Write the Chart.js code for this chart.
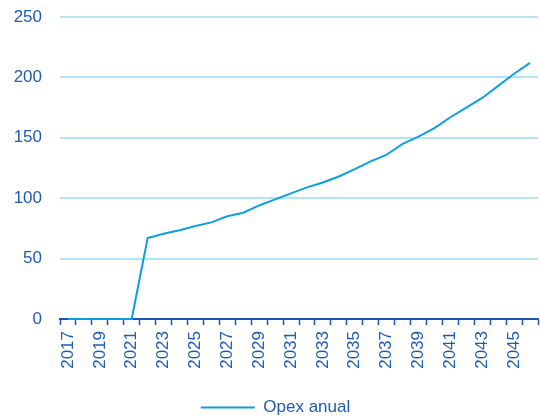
<!DOCTYPE html>
<html>
<head>
<meta charset="utf-8">
<script src="https://cdn.jsdelivr.net/npm/chart.js@4/dist/chart.umd.min.js"></script>
<style>
  html, body { margin: 0; padding: 0; background: #ffffff; }
  #wrap { width: 540px; height: 418px; position: relative; }
</style>
</head>
<body>
<div id="wrap"><canvas id="chart"></canvas></div>
<script>
// Years on the horizontal axis
const years = [2017, 2018, 2019, 2020, 2021, 2022, 2023, 2024, 2025, 2026,
               2027, 2028, 2029, 2030, 2031, 2032, 2033, 2034, 2035, 2036,
               2037, 2038, 2039, 2040, 2041, 2042, 2043, 2044, 2045, 2046];

// Annual operating expenditure
const opexAnual = [0, 0, 0, 0, 0, 67, 70.5, 73.5, 77, 80,
                   85, 88, 94, 99, 104, 109, 113, 118, 124, 130.5,
                   136, 145, 151, 158, 167, 175, 183, 193, 203, 212];

const seriesName = 'Opex anual';
const yTicks = { min: 0, max: 250, step: 50 };

const textColor = '#1f5bb5';
const lineColor = '#0c9fe2';
const gridColor = '#b6e4f7';
const axisColor = '#1f55b0';
const fontFamily = '"Liberation Sans", Arial, sans-serif';

new Chart(document.getElementById('chart'), {
  type: 'line',
  data: {
    labels: years.map(String),
    datasets: [{
      label: seriesName,
      data: opexAnual,
      borderColor: lineColor,
      backgroundColor: lineColor,
      borderWidth: 2,
      pointRadius: 0,
      tension: 0,
      clip: false
    }]
  },
  options: {
    responsive: true,
    maintainAspectRatio: false,
    animation: false,
    devicePixelRatio: 1,
    layout: {
      autoPadding: false,
      padding: { left: 13, right: 2, top: 17, bottom: -8 }
    },
    plugins: {
      tooltip: { enabled: false },
      legend: {
        position: 'bottom',
        labels: {
          color: textColor,
          font: { family: fontFamily, size: 17 },
          boxWidth: 54,
          boxHeight: 2,
          padding: 4,
          generateLabels(chart) {
            return Chart.defaults.plugins.legend.labels.generateLabels(chart).map(item => {
              item.lineWidth = 0;
              item.fillStyle = lineColor;
              return item;
            });
          }
        }
      }
    },
    scales: {
      x: {
        offset: true,
        afterFit(scale) {
          scale.height = 76;
          scale.paddingLeft = 0;
          scale.paddingRight = 0;
        },
        grid: {
          offset: true,
          drawOnChartArea: false,
          drawTicks: true,
          tickLength: 6,
          tickColor: axisColor,
          tickWidth: 1.5
        },
        border: { display: true, color: axisColor, width: 2 },
        ticks: {
          autoSkip: false,
          maxRotation: 90,
          minRotation: 90,
          padding: 6,
          color: textColor,
          font: { family: fontFamily, size: 17 },
          callback(value, index) {
            return index % 2 === 0 ? this.getLabelForValue(value) : '';
          }
        }
      },
      y: {
        min: yTicks.min,
        max: yTicks.max,
        afterFit(scale) {
          scale.width = 47;
          scale.paddingTop = 0;
          scale.paddingBottom = 0;
        },
        grid: {
          color: gridColor,
          lineWidth: 2,
          drawTicks: false
        },
        border: { display: false },
        ticks: {
          stepSize: yTicks.step,
          padding: 18,
          color: textColor,
          font: { family: fontFamily, size: 17 }
        }
      }
    }
  }
});
</script>
</body>
</html>
